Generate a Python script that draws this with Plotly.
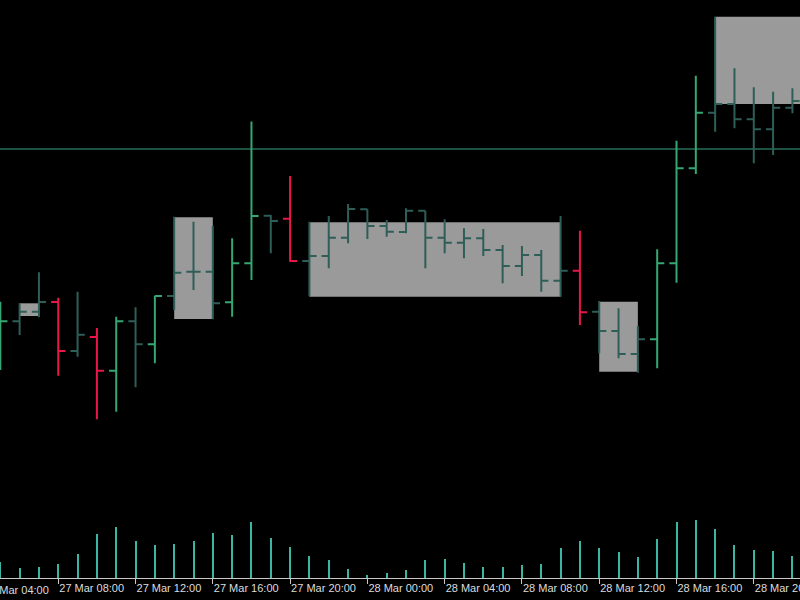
import pandas as pd
import plotly.graph_objects as go

# ---- data (hourly bars, XAUUSD-like) ----
start_time = "2024-03-27 05:00"
times = pd.date_range(start_time, periods=42, freq="h")

opens = [2206.00, 2207.87, 2208.83, 2209.80, 2204.90, 2206.30, 2202.93, 2207.87, 2205.57, 2210.40,
         2212.83, 2212.83, 2209.77, 2213.67, 2218.43, 2218.13, 2213.90, 2214.40, 2216.23, 2219.07,
         2217.40, 2216.80, 2218.93, 2216.23, 2215.73, 2216.17, 2215.00, 2213.40, 2214.50, 2211.93,
         2212.93, 2208.83, 2206.90, 2204.60, 2206.07, 2213.67, 2223.17, 2228.73, 2229.60, 2228.07,
         2227.07, 2229.23]
highs = [2209.83, 2209.67, 2212.77, 2210.23, 2210.83, 2207.20, 2208.33, 2209.27, 2210.43, 2218.33,
         2217.83, 2217.40, 2216.17, 2227.85, 2218.50, 2222.40, 2217.83, 2218.40, 2219.60, 2219.07,
         2218.00, 2219.17, 2218.93, 2218.07, 2217.17, 2217.10, 2215.50, 2215.40, 2215.00, 2218.40,
         2216.93, 2209.90, 2209.17, 2207.40, 2215.07, 2225.93, 2232.43, 2238.33, 2233.17, 2231.27,
         2230.83, 2231.17]
lows = [2203.00, 2206.50, 2208.27, 2202.43, 2204.33, 2198.07, 2198.83, 2201.27, 2203.67, 2209.00,
        2211.00, 2208.07, 2208.33, 2212.00, 2214.67, 2213.83, 2210.40, 2213.17, 2215.67, 2216.10,
        2216.33, 2216.67, 2213.17, 2214.67, 2214.17, 2214.40, 2211.67, 2212.40, 2210.83, 2210.33,
        2207.50, 2204.67, 2204.17, 2202.73, 2203.17, 2211.73, 2222.60, 2226.83, 2227.17, 2223.67,
        2224.50, 2228.67]
closes = [2207.87, 2208.83, 2209.80, 2204.90, 2206.53, 2202.93, 2207.87, 2205.57, 2210.40, 2212.73,
          2212.83, 2209.67, 2213.67, 2218.40, 2217.90, 2213.90, 2214.40, 2216.23, 2219.10, 2217.40,
          2216.83, 2218.93, 2216.23, 2215.73, 2216.17, 2215.00, 2213.40, 2214.50, 2211.93, 2212.93,
          2208.77, 2206.90, 2204.60, 2206.07, 2213.67, 2223.17, 2228.73, 2229.60, 2228.07, 2227.07,
          2229.23, 2229.90]
# bar class: g = strong bull, r = strong bear, n = neutral
bar_class = ["g", "n", "n", "r", "n", "r", "g", "n", "g", "n",
             "n", "n", "g", "g", "n", "r", "n", "n", "n", "n",
             "n", "n", "n", "n", "n", "n", "n", "n", "n", "n",
             "r", "n", "n", "n", "g", "g", "g", "n", "n", "n",
             "n", "n"]
volumes = [1600, 940, 1100, 1340, 2340, 4370, 5070, 3640, 3300, 3400,
           3670, 4470, 4270, 5570, 4000, 3040, 2200, 1740, 870, 270,
           500, 770, 1740, 1840, 1470, 1100, 1100, 1240, 1370, 2940,
           3640, 2940, 2570, 2070, 3870, 5570, 5800, 4840, 3300, 2770,
           2670, 2200]

# consolidation boxes: start bar, end bar, top, bottom
box_start = [1, 9, 16, 31, 37]
box_end = [2, 11, 29, 33, 43]
box_top = [2209.67, 2218.27, 2217.77, 2209.83, 2238.33]
box_bottom = [2208.40, 2208.10, 2210.33, 2202.83, 2229.60]

level_price = 2225.10

# first (partially visible) axis label
edge_label_time = pd.Timestamp("2024-03-27 04:00")

# ---- styles ----
colors = {"g": "#34a772", "r": "#e8174a", "n": "#2f5e58"}
BOX_COLOR = "#9a9a9a"
LEVEL_COLOR = "#3aa58a"
VOL_COLOR = "#3cb5a3"
AXIS_COLOR = "#c8c8c8"
LABEL_FONT = dict(family="Liberation Sans", size=11, color="#dcdcdc")

fig = go.Figure()
for cls in ["n", "g", "r"]:
    idx = [i for i, c in enumerate(bar_class) if c == cls]
    fig.add_trace(go.Ohlc(
        x=[times[i] for i in idx],
        open=[opens[i] for i in idx], high=[highs[i] for i in idx],
        low=[lows[i] for i in idx], close=[closes[i] for i in idx],
        increasing=dict(line=dict(color=colors[cls], width=2)),
        decreasing=dict(line=dict(color=colors[cls], width=2)),
        tickwidth=0.37, showlegend=False, xaxis="x", yaxis="y",
    ))

fig.add_trace(go.Bar(
    x=times, y=volumes, marker=dict(color=VOL_COLOR, line=dict(width=0)),
    width=2 / 19.32 * 3600 * 1000, xaxis="x", yaxis="y2", showlegend=False,
))

all_times = pd.date_range(start_time, periods=50, freq="h")
for s, e, t, b in zip(box_start, box_end, box_top, box_bottom):
    fig.add_shape(type="rect", xref="x", yref="y",
                  x0=all_times[s], x1=all_times[e], y0=b, y1=t,
                  fillcolor=BOX_COLOR, line=dict(width=0), layer="below")

fig.add_shape(type="line", xref="paper", yref="y", x0=0, x1=1,
              y0=level_price, y1=level_price,
              line=dict(color=LEVEL_COLOR, width=1), layer="below")

px_per_hour = 19.32
x0 = pd.Timestamp(start_time) - pd.Timedelta(hours=0.3 / px_per_hour)
x1 = x0 + pd.Timedelta(hours=800 / px_per_hour)

# label for the tick just left of the visible range (cut by the edge)
frac = (edge_label_time - x0) / (x1 - x0)
fig.add_annotation(
    xref="paper", yref="paper", x=frac, y=0, xanchor="left", yanchor="top",
    text=edge_label_time.strftime("%d %b %H:%M"), showarrow=False,
    font=LABEL_FONT, xshift=2, yshift=-5, borderpad=0,
)

fig.update_layout(
    width=800, height=600,
    margin=dict(l=0, r=0, t=0, b=22, autoexpand=False),
    paper_bgcolor="black", plot_bgcolor="black",
    bargap=0, hovermode=False,
    xaxis=dict(
        range=[x0, x1], rangeslider=dict(visible=False),
        automargin=False,
        showgrid=False, zeroline=False,
        showline=True, linecolor=AXIS_COLOR, linewidth=1,
        ticks="outside", ticklen=5, tickcolor=AXIS_COLOR,
        tickformat="%d %b %H:%M", dtick=4 * 3600 * 1000,
        tick0="2024-03-27 00:00",
        ticklabelposition="outside right",
        ticklabeloverflow="allow",
        tickfont=LABEL_FONT,
        anchor="y2",
    ),
    yaxis=dict(range=[2240 - 57.8, 2240], domain=[0, 1], visible=False,
               showgrid=False, zeroline=False),
    yaxis2=dict(range=[0, 11560], domain=[0, 0.2], visible=False,
                showgrid=False, zeroline=False),
)

fig.write_html("out.html")
